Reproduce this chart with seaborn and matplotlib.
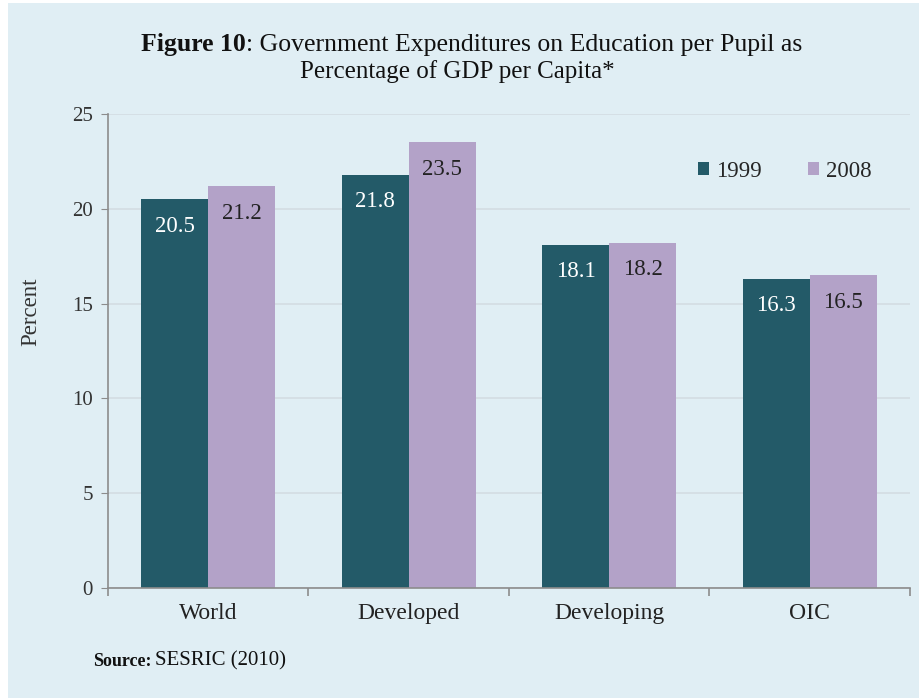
import matplotlib.pyplot as plt
import seaborn as sns
import pandas as pd
import numpy as np
from matplotlib.patches import Rectangle

# Data
regions = ["World", "Developed", "Developing", "OIC"]
years = ["1999", "2008"]
values_1999 = [20.5, 21.8, 18.1, 16.3]
values_2008 = [21.2, 23.5, 18.2, 16.5]
y_ticks = [0, 5, 10, 15, 20, 25]

df = pd.DataFrame({"Region": regions, "1999": values_1999, "2008": values_2008})
df_long = df.melt(id_vars="Region", var_name="Year", value_name="Percent")

bg = "#E0EEF4"
colors = ["#235A68", "#B3A2C8"]
serif = ["Liberation Serif", "DejaVu Serif"]

sns.set_style("white")
plt.rcParams["font.family"] = serif

fig = plt.figure(figsize=(9.2, 6.98), dpi=100)
fig.patch.set_facecolor("white")
fig.add_artist(Rectangle((8 / 920, 0), 1, 695 / 698, transform=fig.transFigure,
                         facecolor=bg, edgecolor="none", zorder=0))

ax = fig.add_axes([108 / 920, 110 / 698, 802 / 920, 474 / 698])
ax.set_facecolor(bg)

sns.barplot(data=df_long, x="Region", y="Percent", hue="Year", palette=colors,
            width=0.67, gap=0, saturation=1, linewidth=0, ax=ax, legend=True)

ax.set_ylim(0, 25)
ax.set_xlim(-0.5, 3.5)
ax.set_yticks(y_ticks)
ax.yaxis.grid(True, color="#D3DDE2", linewidth=1.2)
ax.set_axisbelow(True)

for s in ["top", "right"]:
    ax.spines[s].set_visible(False)
for s in ["left", "bottom"]:
    ax.spines[s].set_color("#8C8C8C")
    ax.spines[s].set_linewidth(1.2)

ax.tick_params(axis="y", left=True, length=5, color="#8C8C8C", labelsize=15,
               labelcolor="#333333", pad=6)
ax.tick_params(axis="x", which="major", length=0, labelsize=17, labelcolor="#222222", pad=11)
ax.set_xticks(np.arange(-0.5, 4, 1), minor=True)
ax.tick_params(axis="x", which="minor", bottom=True, length=6, color="#8C8C8C", width=1.2)

ax.set_xlabel("")
ax.set_ylabel("Percent", fontsize=16.5, color="#333333")
ax.yaxis.set_label_coords(-0.083, 0.582)

# value labels inside the top of each bar
for container, tc in zip(ax.containers, ["white", "#222222"]):
    labels = [f"{b.get_height():.1f}" for b in container]
    ax.bar_label(container, labels=labels, label_type="edge", padding=-27,
                 color=tc, fontsize=16.5)

leg = ax.legend(loc="upper right", bbox_to_anchor=(0.978, 0.945), ncol=2, frameon=False,
                fontsize=16.5, handlelength=0.5, handleheight=0.5, handletextpad=0.3,
                columnspacing=2.0)

# title, line 1 with bold prefix, centred as a whole
renderer = fig.canvas.get_renderer()
t_y1 = 1 - 45 / 698
bold = fig.text(0, t_y1, "Figure 10", fontsize=18.5, fontweight="bold",
                ha="left", va="center", color="#111111")
rest = fig.text(0, t_y1, ": Government Expenditures on Education per Pupil as",
                fontsize=18.5, ha="left", va="center", color="#111111")
w_bold = bold.get_window_extent(renderer).width
w_rest = rest.get_window_extent(renderer).width
x0 = 472 - (w_bold + w_rest) / 2
bold.set_x(x0 / 920)
rest.set_x((x0 + w_bold) / 920)
fig.text(457 / 920, 1 - 72 / 698, "Percentage of GDP per Capita*", fontsize=18,
         ha="center", va="center", color="#111111")

# source
src_b = fig.text(93 / 920, 1 - 661 / 698, "Source:", fontsize=13, fontweight="bold",
                 ha="left", va="center", color="#111111")
wb = src_b.get_window_extent(renderer).width
fig.text((93 + wb + 4) / 920, 1 - 661 / 698, "SESRIC (2010)", fontsize=15,
         ha="left", va="center", color="#111111")

fig.savefig("out.png", dpi=100, facecolor=fig.get_facecolor())
